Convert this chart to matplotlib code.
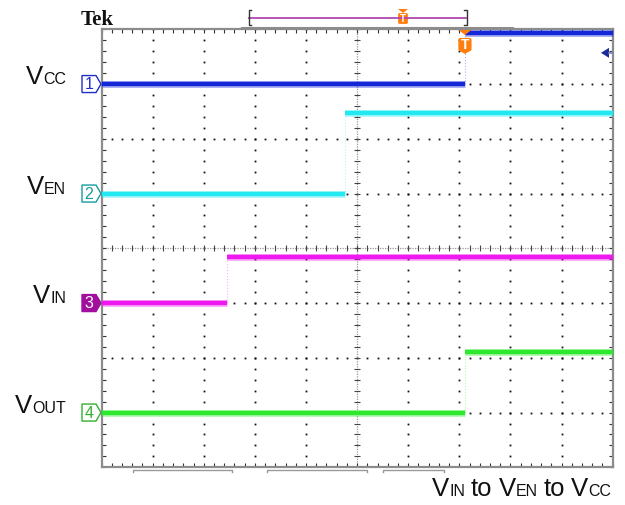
import numpy as np
import matplotlib
matplotlib.use('Agg')
import matplotlib.pyplot as plt
from matplotlib.patches import Polygon, FancyBboxPatch

# scope screen in divisions: 10 across, 8 high, centre = 0
channels = ['1', '2', '3', '4']
label_big = ['V', 'V', 'V', 'V']
label_small = ['CC', 'EN', 'IN', 'OUT']
low_level = [3.0, 1.0, -1.0, -3.0]
high_level = [3.93, 2.48, -0.15, -1.89]
step_time = [7.11, 4.76, 2.46, 7.11]
trace_colors = ['#1428d8', '#22e8f2', '#f018f0', '#2ee82e']
marker_colors = ['#2030c8', '#189c9c', '#a0109c', '#30b030']
trigger_time = 7.11
trigger_level = 3.57
caption = [('V', 'big'), ('IN', 'small'), ('to', 'big'), ('V', 'big'), ('EN', 'small'),
           ('to', 'big'), ('V', 'big'), ('CC', 'small')]

W, H = 625, 505
x0, x1, y0, y1 = 101.5, 612.7, 29.3, 467.3
FONT = 'Liberation Sans'
BIG, SMALL = 18.5, 11.5

fig = plt.figure(figsize=(W / 100, H / 100), dpi=100)
fig.patch.set_facecolor('white')
ax = fig.add_axes([x0 / W, 1 - y1 / H, (x1 - x0) / W, (y1 - y0) / H])
ax.set_xlim(0, 10)
ax.set_ylim(-4, 4)
ax.set_xticks(np.arange(0, 10.01, 1))
ax.set_yticks(np.arange(-4, 4.01, 1))
ax.set_xticks(np.arange(0, 10.01, 0.2), minor=True)
ax.set_yticks(np.arange(-4, 4.01, 0.2), minor=True)
ax.tick_params(which='both', direction='in', length=3, width=0.8, color='#333333',
               top=True, right=True, labelbottom=False, labelleft=False)
for s in ax.spines.values():
    s.set_color('#8c8c8c')
    s.set_linewidth(1.6)

# grid of dots
ys = np.arange(-4, 4.01, 0.2)
xs = np.arange(0, 10.01, 0.2)
for gx in range(1, 10):
    if gx != 5:
        ax.plot(np.full(len(ys), gx), ys, ls='none', marker='s', ms=1.3, mew=0,
                color='#111111', zorder=1)
for gy in range(-3, 4):
    if gy != 0:
        ax.plot(xs, np.full(len(xs), gy), ls='none', marker='s', ms=1.3, mew=0,
                color='#111111', zorder=1)
# centre cross with ticks
ax.axhline(0, color='#999999', lw=0.9, ls=(0, (1, 1)), zorder=1)
ax.axvline(5, color='#999999', lw=0.9, ls=(0, (1, 1)), zorder=1)
ax.plot(xs, np.zeros(len(xs)), ls='none', marker='|', ms=4, mew=0.8, color='#444444', zorder=1)
ax.plot(np.full(len(ys), 5), ys, ls='none', marker='_', ms=4, mew=0.8, color='#444444', zorder=1)

# traces
for i in range(4):
    c = trace_colors[i]
    t = step_time[i]
    for lw, a in [(5.0, 0.35), (3.2, 1.0)]:
        ax.hlines(low_level[i], 0, t, color=c, lw=lw, alpha=a, zorder=3, clip_on=False)
        ax.hlines(high_level[i], t, 10, color=c, lw=lw, alpha=a, zorder=3, clip_on=False)
    ax.vlines(t, low_level[i], high_level[i], color=c, lw=0.8, alpha=0.35, ls=':', zorder=3)

# overlay in pixel coords for screen annotations
ov = fig.add_axes([0, 0, 1, 1], zorder=5)
ov.set_xlim(0, W)
ov.set_ylim(H, 0)
ov.axis('off')
ov.patch.set_alpha(0)


def to_px(t, v):
    dx, dy = ax.transData.transform((t, v))
    return dx, H - dy


renderer = fig.canvas.get_renderer()

for i in range(4):
    _, yc = to_px(0, low_level[i])
    pts = [(82, yc - 8.5), (96, yc - 8.5), (101, yc), (96, yc + 8.5), (82, yc + 8.5)]
    filled = channels[i] == '3'
    ov.add_patch(Polygon(pts, closed=True, fc=marker_colors[i] if filled else 'white',
                         ec=marker_colors[i], lw=1))
    ov.text(89, yc + 0.5, channels[i], color='white' if filled else marker_colors[i],
            fontsize=11.5, family=FONT, ha='center', va='center')
    sm = ov.text(66, yc, label_small[i], fontsize=SMALL, family=FONT, ha='right',
                 va='baseline', color='#111111')
    bb = sm.get_window_extent(renderer)
    ov.text(bb.x0, yc, label_big[i], fontsize=BIG, family=FONT, ha='right',
            va='baseline', color='#111111')

# caption
cx = 432
for s, size in caption:
    if s == 'to':
        cx += 6
    tx = ov.text(cx, 496, s, fontsize=BIG if size == 'big' else SMALL, family=FONT,
                 ha='left', va='baseline', color='#111111')
    cx = tx.get_window_extent(renderer).x1
    if s == 'to':
        cx += 6

# trigger marker
px, _ = to_px(trigger_time, 4)
orange = '#ff7f0e'
ov.add_patch(Polygon([(px - 7, 29.5), (px + 7, 29.5), (px, 35)], closed=True, fc=orange, ec='none'))
ov.add_patch(FancyBboxPatch((px - 6, 38.5), 12, 12, boxstyle='round,pad=0.6,rounding_size=2',
                            fc=orange, ec='none'))
ov.add_patch(Polygon([(px - 6, 50.5), (px + 6, 50.5), (px, 54)], closed=True, fc=orange, ec='none'))
ov.text(px, 45, 'T', color='white', fontsize=10, weight='bold', family=FONT, ha='center', va='center')

# trigger level arrow
_, ly = to_px(10, trigger_level)
ov.add_patch(Polygon([(601, ly), (609, ly - 5), (609, ly + 5)], closed=True, fc='#1a2a9a', ec='none'))
ov.plot([609, 612], [ly, ly], color='#7080c0', lw=1.2)

# record bar at top
ov.plot([249, 466], [17.5, 17.5], color='#b048b0', lw=1.3)
ov.plot([251, 248.5, 248.5, 251], [10, 10, 25, 25], color='#333333', lw=1)
ov.plot([464, 466.5, 466.5, 464], [10, 10, 25, 25], color='#333333', lw=1)
ov.add_patch(Polygon([(398, 9), (408, 9), (403, 13)], closed=True, fc=orange, ec='none'))
ov.add_patch(FancyBboxPatch((398.5, 13.5), 9, 10, boxstyle='round,pad=0.4,rounding_size=1.5',
                            fc=orange, ec='none'))
ov.text(403, 18.5, 'T', color='white', fontsize=7, weight='bold', family=FONT, ha='center', va='center')
ov.plot([242, 512], [28, 28], color='#8c8c8c', lw=2.2)

ov.text(81, 25, 'Tek', fontsize=15, weight='bold', family='Liberation Serif', va='baseline',
        color='#111111')

# readout brackets below screen
for a, b in [(133, 232), (267, 367), (383, 444)]:
    ov.plot([a, a, b, b], [472, 469.5, 469.5, 472], color='#999999', lw=1)

fig.savefig('out.png', dpi=100, facecolor='white')
